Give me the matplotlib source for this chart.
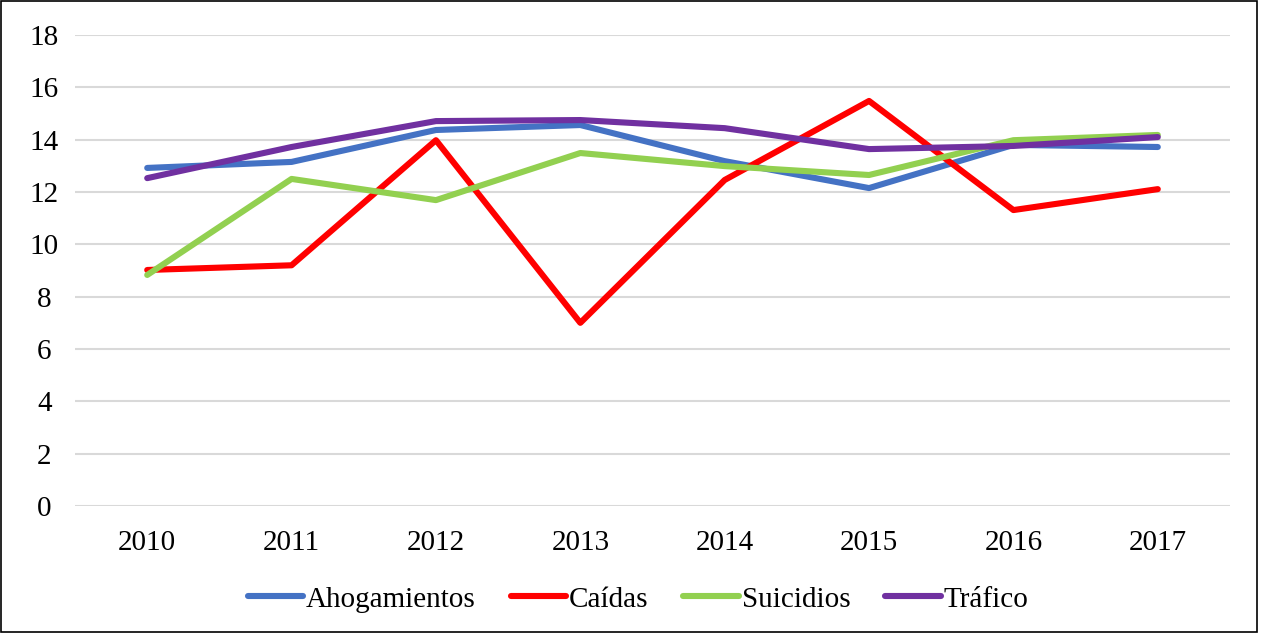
import matplotlib.pyplot as plt
from matplotlib.patches import Rectangle

years = ["2010", "2011", "2012", "2013", "2014", "2015", "2016", "2017"]
ahogamientos = [12.92, 13.15, 14.37, 14.56, 13.18, 12.15, 13.80, 13.72]
caidas = [9.02, 9.20, 13.98, 7.00, 12.46, 15.48, 11.31, 12.11]
suicidios = [8.83, 12.50, 11.69, 13.49, 12.99, 12.65, 13.98, 14.18]
trafico = [12.53, 13.72, 14.71, 14.75, 14.44, 13.64, 13.76, 14.10]

plt.rcParams['font.family'] = ['Liberation Serif', 'DejaVu Serif']

fig = plt.figure(figsize=(12.61, 6.33), dpi=100)
ax = fig.add_axes([0.0595, 0.2006, 0.9159, 0.7441])

x = range(len(years))
ax.plot(x, ahogamientos, color='#4472C4', lw=4.4, label='Ahogamientos', solid_capstyle='round')
ax.plot(x, caidas, color='#FF0000', lw=4.4, label='Caídas', solid_capstyle='round')
ax.plot(x, suicidios, color='#92D050', lw=4.4, label='Suicidios', solid_capstyle='round')
ax.plot(x, trafico, color='#7030A0', lw=4.4, label='Tráfico', solid_capstyle='round')

ax.set_xlim(-0.5, len(years) - 0.5)
ax.set_ylim(0, 18)
ax.set_yticks(range(0, 19, 2))
ax.set_xticks(list(x))
ax.set_xticklabels(years)
ax.tick_params(axis='both', length=0, labelsize=21)
ax.tick_params(axis='x', pad=17)
ax.tick_params(axis='y', pad=22)
for lbl in ax.get_yticklabels():
    lbl.set_horizontalalignment('center')
ax.grid(axis='y', color='#D9D9D9', lw=1.5)
ax.set_axisbelow(True)
for s in ax.spines.values():
    s.set_visible(False)

fig.legend(loc='center', bbox_to_anchor=(0.506, 0.053), ncol=4, frameon=False,
           fontsize=21, handlelength=1.9, handletextpad=0.1, columnspacing=1.2)

fig.patches.append(Rectangle((0.001, 0.001), 0.996, 0.997, transform=fig.transFigure,
                             fill=False, edgecolor='black', lw=1.2))

fig.savefig('out.png', dpi=100)
